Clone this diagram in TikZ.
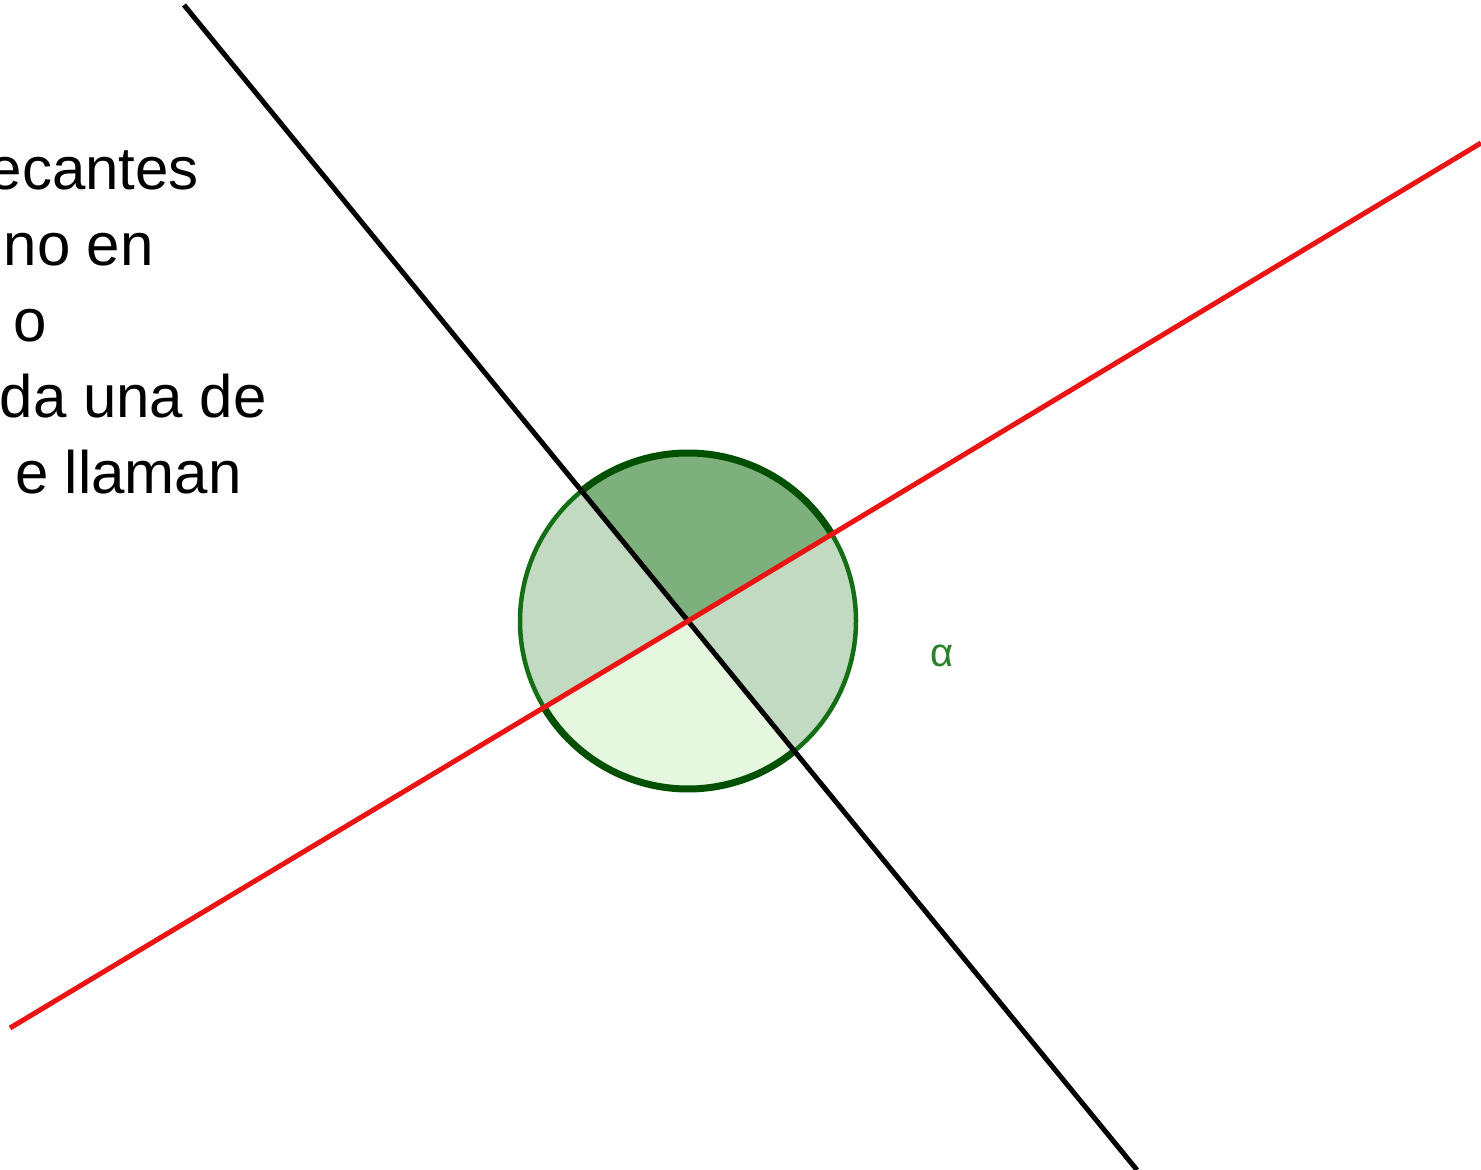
\documentclass[tikz,border=0pt]{standalone}
\usepackage{fontspec}
\setmainfont{Liberation Sans}
\definecolor{topfill}{RGB}{125,176,125}
\definecolor{sidefill}{RGB}{194,218,194}
\definecolor{botfill}{RGB}{229,248,223}
\definecolor{darkrim}{RGB}{0,80,0}
\definecolor{rim}{RGB}{20,110,20}
\definecolor{redline}{RGB}{235,20,20}
\definecolor{alphacol}{RGB}{40,130,40}
\tikzset{
  txt/.style={anchor=base east, inner sep=0pt, font=\fontsize{60}{72}\selectfont},
  thickrim/.style={draw=darkrim, line width=7pt},
  thinrim/.style={draw=rim, line width=4.5pt},
  blackln/.style={draw=black, line width=5pt},
  redln/.style={draw=redline, line width=5pt}
}
\begin{document}
\begin{tikzpicture}[x=1pt,y=1pt]
\useasboundingbox[fill=white] (0,0) rectangle (1481,1170);
\coordinate (O) at (688,549);
\def\R{168}
% sectors
\fill[topfill] (O) -- ++(31:\R) arc[start angle=31, end angle=129.3, radius=\R] -- cycle;
\fill[sidefill] (O) -- ++(129.3:\R) arc[start angle=129.3, end angle=211, radius=\R] -- cycle;
\fill[botfill] (O) -- ++(211:\R) arc[start angle=211, end angle=309.3, radius=\R] -- cycle;
\fill[sidefill] (O) -- ++(309.3:\R) arc[start angle=-50.7, end angle=31, radius=\R] -- cycle;
% rims
\draw[thinrim] (O) ++(129.3:\R) arc[start angle=129.3, end angle=211, radius=\R];
\draw[thinrim] (O) ++(309.3:\R) arc[start angle=-50.7, end angle=31, radius=\R];
\draw[thickrim] (O) ++(31:\R) arc[start angle=31, end angle=129.3, radius=\R];
\draw[thickrim] (O) ++(211:\R) arc[start angle=211, end angle=309.3, radius=\R];
% lines
\coordinate (B1) at (184,1165);
\coordinate (B2) at (1137,0);
\coordinate (R1) at (10,142);
\coordinate (R2) at (1481,1027);
\draw[blackln] (B1) -- (O) -- (B2);
\draw[redln] (R1) -- (O) -- (R2);
% alpha
\node[inner sep=0pt, text=alphacol, font=\fontsize{40}{48}\selectfont] (alpha) at (942,514) {α};
% text
\node[txt] (t1) at (199,980) {ecantes};
\node[txt] (t2) at (154,904) {no en};
\node[txt] (t3) at (47,828) {o};
\node[txt] (t4) at (267,752) {da una de};
\node[txt] (t5) at (242,676) {e llaman};
\end{tikzpicture}
\end{document}
